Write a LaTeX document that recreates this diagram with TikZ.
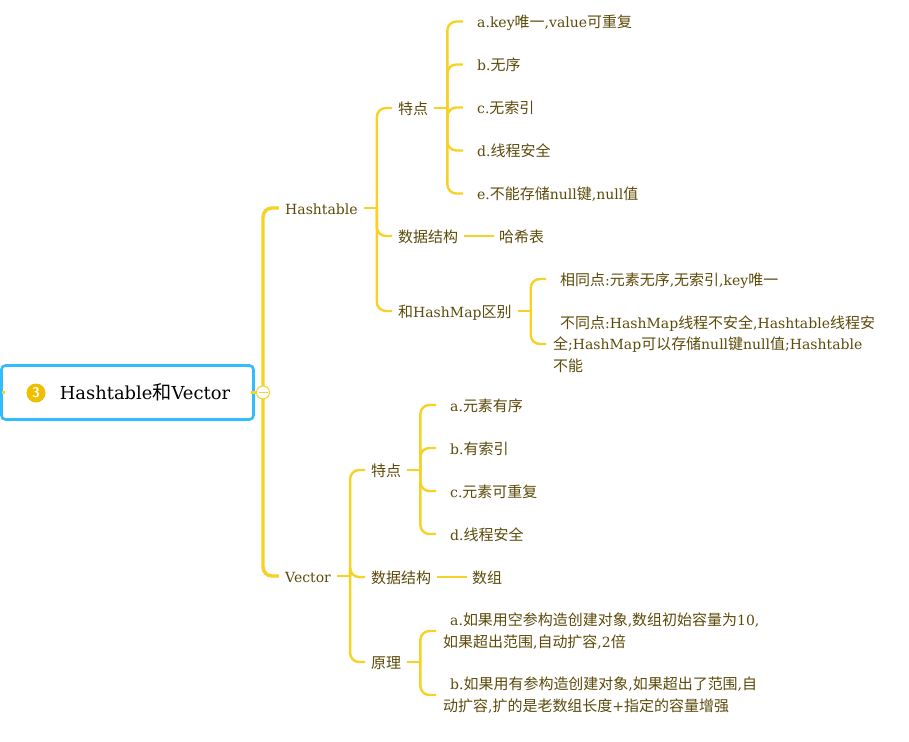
\documentclass[tikz,border=0pt]{standalone}
\usepackage{fontspec}
\setmainfont{DejaVu Serif}
\newfontfamily\cjk[Scale=1.07]{Noto Sans CJK SC}
\newcommand{\zh}[1]{{\cjk #1}}
\newcommand{\ind}{\hspace*{7pt}}
\usetikzlibrary{calc}
\definecolor{mapyellow}{RGB}{246,209,38}
\definecolor{rootblue}{RGB}{51,187,255}
\definecolor{badgegold}{RGB}{240,192,0}
\definecolor{leafbrown}{RGB}{92,74,10}

\begin{document}
\begin{tikzpicture}[
  x=1pt, y=-1pt,
  every node/.style={font=\fontsize{14}{21.5}\selectfont, text=leafbrown},
  rootbox/.style={rectangle, rounded corners=4pt, draw=rootblue, line width=2.6pt, fill=white,
    text=black, minimum width=252pt, minimum height=54pt, align=center,
    font=\fontsize{17.9}{22}\selectfont},
  badge/.style={circle, fill=badgegold, text=white, inner sep=0pt, minimum size=19pt,
    font=\fontsize{14}{14}\sffamily\bfseries},
  foldmark/.style={circle, draw=mapyellow, fill=white, line width=1pt, inner sep=0pt, minimum size=13pt},
  topic/.style={anchor=west, inner xsep=6pt, inner ysep=0pt, text height=12pt, text depth=0pt},
  leaf/.style={anchor=west, inner xsep=7pt, inner ysep=0pt, text height=12pt, text depth=0pt},
  longleaf/.style={anchor=west, inner xsep=7pt, inner ysep=0pt, align=left,
    execute at begin node={\vspace*{4pt}}},
  bough/.style={draw=mapyellow, line width=3.4pt, rounded corners=9pt},
  twig/.style={draw=mapyellow, line width=2.4pt, rounded corners=9pt}
]
  \useasboundingbox (0,0) rectangle (909,741);

  % Wurzel.
  \node[rootbox] (root) at (127.5,392.5) {\hspace*{35pt}Hashtable\zh{和}Vector};
  \node[badge] (three) at (36,393) {3};

  % Hashtable.
  \node[topic] (hash) at (279,208) {Hashtable};
  \node[topic] (hfeat) at (392,108) {\zh{特点}};
  \node[topic] (hdata) at (392,236) {\zh{数据结构}};
  \node[topic] (hdiff) at (392,311) {\zh{和}HashMap\zh{区别}};
  \node[leaf] (hkey) at (463,21.5) {\ind a.key\zh{唯一},value\zh{可重复}};
  \node[leaf] (hunord) at (463,64.5) {\ind b.\zh{无序}};
  \node[leaf] (hnoidx) at (463,107.5) {\ind c.\zh{无索引}};
  \node[leaf] (hsafe) at (463,150.5) {\ind d.\zh{线程安全}};
  \node[leaf] (hnull) at (463,193.5) {\ind e.\zh{不能存储}null\zh{键},null\zh{值}};
  \node[topic, inner xsep=5pt] (htable) at (494,236) {\zh{哈希表}};
  \node[leaf] (hsame) at (546,279) {\ind\zh{相同点}:\zh{元素无序},\zh{无索引},key\zh{唯一}};
  \node[longleaf] (hother) at (546,344) {\ind\zh{不同点}:HashMap\zh{线程不安全},Hashtable\zh{线程安}\\
    \zh{全};HashMap\zh{可以存储}null\zh{键}null\zh{值};Hashtable\\
    \zh{不能}};

  % Vector.
  \node[topic] (vec) at (279,576) {Vector};
  \node[topic] (vfeat) at (365,470) {\zh{特点}};
  \node[topic] (vdata) at (365,577) {\zh{数据结构}};
  \node[topic] (vprin) at (365,662) {\zh{原理}};
  \node[leaf] (vord) at (436,405) {\ind a.\zh{元素有序}};
  \node[leaf] (vidx) at (436,448) {\ind b.\zh{有索引}};
  \node[leaf] (vrep) at (436,491) {\ind c.\zh{元素可重复}};
  \node[leaf] (vsafe) at (436,534) {\ind d.\zh{线程安全}};
  \node[topic, inner xsep=5pt] (varr) at (467,577) {\zh{数组}};
  \node[longleaf] (vnoarg) at (436,631) {\ind a.\zh{如果用空参构造创建对象},\zh{数组初始容量为}10,\\
    \zh{如果超出范围},\zh{自动扩容},2\zh{倍}};
  \node[longleaf] (varg) at (436,695) {\ind b.\zh{如果用有参构造创建对象},\zh{如果超出了范围},\zh{自}\\
    \zh{动扩容},\zh{扩的是老数组长度}+\zh{指定的容量增强}};

  % Hauptaeste.
  \draw[twig] (root.west) ++(2,0) -- ++(3,0);
  \draw[bough] (root.east) ++(-4,0) -- (263,392.5) coordinate (rootbus);
  \draw[bough] (rootbus) |- (hash.west);
  \draw[bough] (rootbus) |- (vec.west);

  % Aeste von Hashtable.
  \draw[twig] (hash.east) -- ++(13,0) coordinate (hashbus);
  \foreach \kid in {hfeat,hdata,hdiff} \draw[twig] (hashbus) |- (\kid.west);
  \draw[twig] (hfeat.east) -- ++(13,0) coordinate (hfeatbus);
  \foreach \kid in {hkey,hunord,hnoidx,hsafe,hnull} \draw[twig] (hfeatbus) |- (\kid.west);
  \draw[twig] (hdata) -- (htable);
  \draw[twig] (hdiff.east) -- ++(13,0) coordinate (hdiffbus);
  \foreach \kid in {hsame,hother} \draw[twig] (hdiffbus) |- (\kid.west);

  % Aeste von Vector.
  \draw[twig] (vec.east) -- ++(13,0) coordinate (vecbus);
  \foreach \kid in {vfeat,vdata,vprin} \draw[twig] (vecbus) |- (\kid.west);
  \draw[twig] (vfeat.east) -- ++(13,0) coordinate (vfeatbus);
  \foreach \kid in {vord,vidx,vrep,vsafe} \draw[twig] (vfeatbus) |- (\kid.west);
  \draw[twig] (vdata) -- (varr);
  \draw[twig] (vprin.east) -- ++(13,0) coordinate (vprinbus);
  \foreach \kid in {vnoarg,varg} \draw[twig] (vprinbus) |- (\kid.west);

  % Einklappen.
  \node[foldmark] (fold) at (rootbus) {};
  \draw[draw=mapyellow, line width=1pt, shorten <=2.5pt, shorten >=2.5pt] (fold.west) -- (fold.east);
\end{tikzpicture}
\end{document}
